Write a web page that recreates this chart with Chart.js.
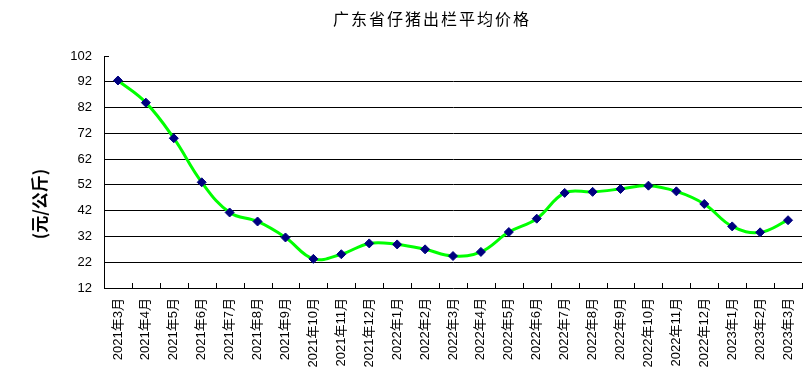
<!DOCTYPE html>
<html><head><meta charset="utf-8">
<script src="https://cdn.jsdelivr.net/npm/chart.js@4"></script>
<style>html,body{margin:0;padding:0;background:#fff}#wrap{width:810px;height:384px}</style>
</head><body><div id="wrap"><canvas id="c" width="810" height="384"></canvas></div>
<script>
const categories = ['2021年3月','2021年4月','2021年5月','2021年6月','2021年7月','2021年8月','2021年9月','2021年10月','2021年11月','2021年12月','2022年1月','2022年2月','2022年3月','2022年4月','2022年5月','2022年6月','2022年7月','2022年8月','2022年9月','2022年10月','2022年11月','2022年12月','2023年1月','2023年2月','2023年3月'];
const prices = [92.5,83.9,70.1,53.0,41.3,37.8,31.6,23.3,25.1,29.3,28.9,27.0,24.4,26.0,33.7,38.9,48.9,49.3,50.4,51.7,49.5,44.6,35.9,33.6,38.3];
const yTicks = [12,22,32,42,52,62,72,82,92,102];
const titleText = '广东省仔猪出栏平均价格';
const yTitle = '(元/公斤)';

const deco = {
  id: 'deco',
  afterDraw(chart) {
    const ctx = chart.ctx, xs = chart.scales.x, ys = chart.scales.y, a = chart.chartArea;
    ctx.save();
    ctx.strokeStyle = '#000'; ctx.lineWidth = 1;
    ctx.beginPath();
    for (let i = 0; i <= categories.length; i++) {
      const x = Math.round(xs.getPixelForValue(i - 0.5)) + 0.5;
      ctx.moveTo(x, a.bottom); ctx.lineTo(x, a.bottom - 5);
    }
    const yt = Math.round(ys.getPixelForValue(102)) + 0.5;
    ctx.moveTo(a.left, yt); ctx.lineTo(a.left + 5, yt);
    ctx.stroke();
    // title
    ctx.fillStyle = '#000';
    ctx.font = '16px "Noto Sans CJK SC"';
    ctx.letterSpacing = '2px';
    ctx.textAlign = 'center'; ctx.textBaseline = 'middle';
    ctx.fillText(titleText, 432, 19);
    ctx.letterSpacing = '0px';
    // y title
    ctx.translate(40, 204);
    ctx.rotate(-Math.PI / 2);
    ctx.font = 'bold 17px "Noto Sans CJK SC"';
    ctx.fillText(yTitle, 0, 0);
    ctx.restore();
  }
};

new Chart(document.getElementById('c'), {
  type: 'line',
  data: {
    labels: categories,
    datasets: [{
      data: prices,
      borderColor: '#00ff00',
      borderWidth: 3,
      tension: 0.4,
      pointStyle: 'rectRot',
      pointRadius: 4.5,
      pointBackgroundColor: '#000080',
      pointBorderColor: '#000080',
      pointBorderWidth: 1
    }]
  },
  options: {
    responsive: false,
    animation: false,
    devicePixelRatio: 1,
    layout: { padding: { top: 56, left: 0, right: 8, bottom: 0 } },
    plugins: { legend: { display: false }, title: { display: false }, tooltip: { enabled: false } },
    scales: {
      x: {
        type: 'category',
        offset: true,
        afterFit(s) { s.height = 96; s.paddingLeft = 0; s.paddingRight = 0; },
        grid: { display: false, drawTicks: false },
        border: { display: true, color: '#000', width: 1 },
        ticks: {
          minRotation: 90, maxRotation: 90, autoSkip: false, padding: 10,
          color: '#000', font: { family: '"Liberation Sans", "Noto Sans CJK SC"', size: 13 }
        }
      },
      y: {
        min: 12, max: 102,
        afterFit(s) { s.width = 104; },
        afterBuildTicks(s) { s.ticks = yTicks.map(v => ({ value: v })); },
        grid: {
          drawTicks: false,
          color: ctx => (ctx.tick && (ctx.tick.value === 102 || ctx.tick.value === 12)) ? 'rgba(0,0,0,0)' : '#000',
          lineWidth: 1
        },
        border: { display: true, color: '#000', width: 1 },
        ticks: {
          padding: 12, color: '#000',
          font: { family: '"Liberation Sans", "DejaVu Sans"', size: 13 }
        }
      }
    }
  },
  plugins: [deco]
});
</script>
</body></html>
